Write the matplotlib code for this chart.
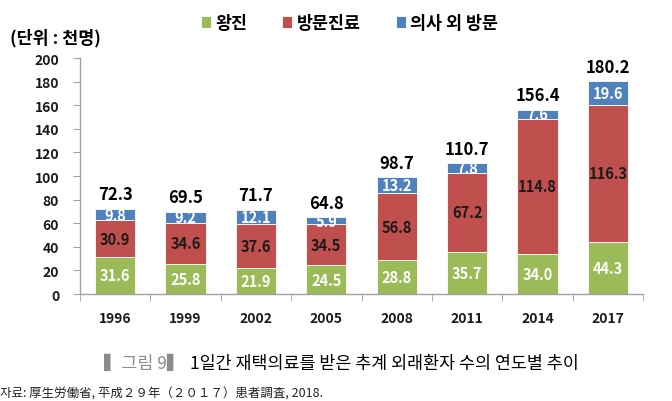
import matplotlib
matplotlib.use("Agg")
import matplotlib.pyplot as plt
import numpy as np

years = ["1996", "1999", "2002", "2005", "2008", "2011", "2014", "2017"]
wangjin = [31.6, 25.8, 21.9, 24.5, 28.8, 35.7, 34.0, 44.3]
bangmun = [30.9, 34.6, 37.6, 34.5, 56.8, 67.2, 114.8, 116.3]
etc_visit = [9.8, 9.2, 12.1, 5.9, 13.2, 7.8, 7.6, 19.6]
totals = [72.3, 69.5, 71.7, 64.8, 98.7, 110.7, 156.4, 180.2]
series_names = ["왕진", "방문진료", "의사 외 방문"]

GREEN = "#9BBB59"
RED = "#C0504D"
BLUE = "#4F81BD"
FONT = ["Noto Sans CJK KR", "DejaVu Sans"]

plt.rcParams["font.family"] = FONT

fig = plt.figure(figsize=(6.72, 4.02), dpi=100)
ax = fig.add_axes([0.119, 0.266, 0.838, 0.587])

x = np.arange(len(years))
w = 0.57
b1 = ax.bar(x, wangjin, w, color=GREEN, edgecolor="white", linewidth=0.6, label=series_names[0])
bottom2 = np.array(wangjin)
b2 = ax.bar(x, bangmun, w, bottom=bottom2, color=RED, edgecolor="white", linewidth=0.6, label=series_names[1])
bottom3 = bottom2 + np.array(bangmun)
b3 = ax.bar(x, etc_visit, w, bottom=bottom3, color=BLUE, edgecolor="white", linewidth=0.6, label=series_names[2])

for i in range(len(years)):
    ax.text(x[i], wangjin[i] / 2, f"{wangjin[i]:.1f}", ha="center", va="center",
            color="white", fontsize=10.5, fontweight="bold")
    ax.text(x[i], bottom2[i] + bangmun[i] / 2, f"{bangmun[i]:.1f}", ha="center", va="center",
            color="#1a1a1a", fontsize=10.5, fontweight="bold")
    ax.text(x[i], bottom3[i] + etc_visit[i] / 2, f"{etc_visit[i]:.1f}", ha="center", va="center",
            color="white", fontsize=10.5, fontweight="bold")
    ax.annotate(f"{totals[i]:.1f}", (x[i], bottom3[i] + etc_visit[i]), xytext=(0, 4),
                textcoords="offset points", ha="center", va="bottom",
                fontsize=12, fontweight="bold", color="black")

ax.set_xlim(-0.5, len(years) - 0.5)
ax.set_ylim(0, 200)
ax.set_yticks(np.arange(0, 201, 20))
ax.set_yticklabels([str(v) for v in range(0, 201, 20)], fontsize=10, fontweight="bold", color="#1a1a1a")
ax.set_xticks(x)
ax.set_xticklabels(years, fontsize=10, fontweight="bold", color="#1a1a1a")
ax.set_xticks(np.arange(-0.5, len(years), 1), minor=True)
ax.tick_params(axis="x", which="major", length=0, pad=12)
ax.tick_params(axis="x", which="minor", length=5, color="#a0a0a0", direction="out")
ax.tick_params(axis="y", length=5, color="#a0a0a0", direction="out", pad=10)

for s in ["top", "right"]:
    ax.spines[s].set_visible(False)
for s in ["left", "bottom"]:
    ax.spines[s].set_color("#a0a0a0")
    ax.spines[s].set_linewidth(1.0)

leg = fig.legend(handles=[b1, b2, b3], labels=series_names, loc="center",
                 bbox_to_anchor=(0.52, 0.94), ncol=3, frameon=False,
                 prop={"family": FONT, "weight": "bold", "size": 12.5},
                 handlelength=0.6, handleheight=0.6, handletextpad=0.25, columnspacing=2.0)

fig.text(0.015, 0.905, "(단위 : 천명)", fontsize=12.5, fontweight="bold", ha="left", va="center")

fig.text(0.155, 0.095, "▍그림 9▍", fontsize=12.5, color="#8c8c8c", ha="left", va="center")
fig.text(0.283, 0.095, "1일간 재택의료를 받은 추계 외래환자 수의 연도별 추이",
         fontsize=12.5, color="black", ha="left", va="center")
fig.text(0.0, 0.02, "자료: 厚生労働省, 平成２９年（２０１７）患者調査, 2018.",
         fontsize=9, color="#222222", ha="left", va="center")

fig.savefig("out.png", dpi=100)
